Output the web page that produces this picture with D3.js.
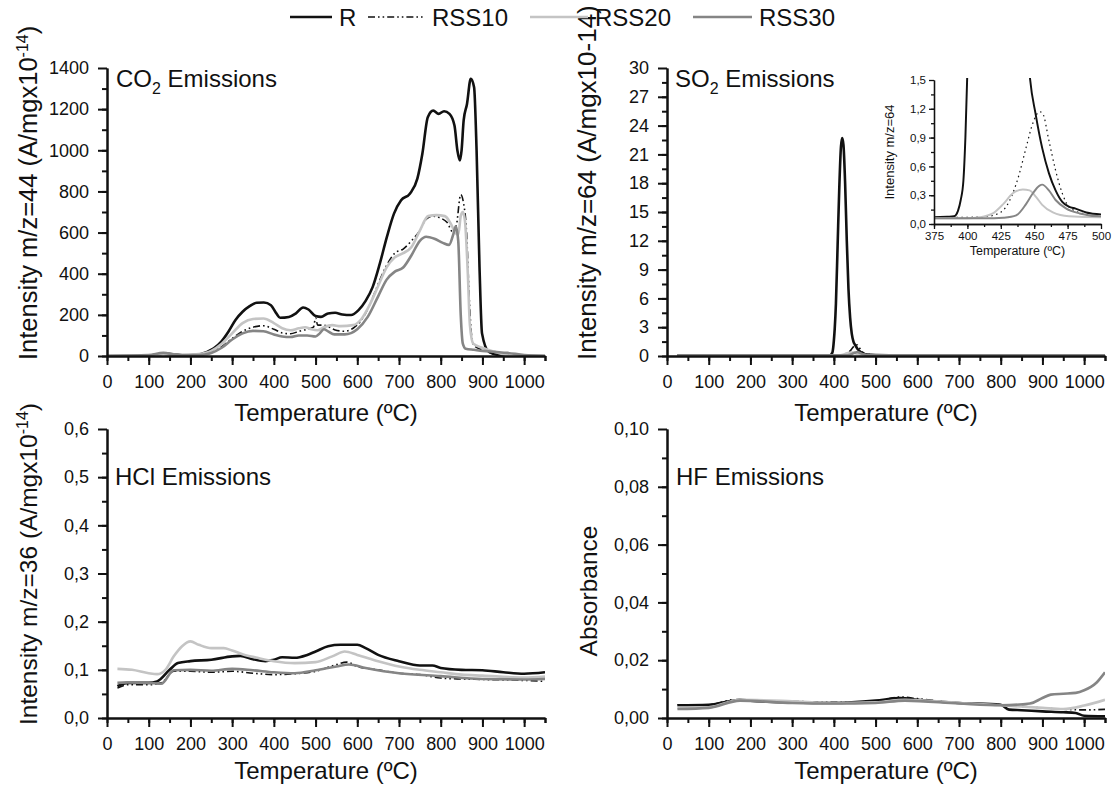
<!DOCTYPE html>
<html>
<head>
<meta charset="utf-8">
<script src="https://cdn.jsdelivr.net/npm/d3@7"></script>
<style>
	body { margin: 0; background: #fff; }
	svg text { font-family: 'Liberation Sans', Arial, sans-serif; fill: #111; }
</style>
</head>
<body>
<svg id="chart" width="1116" height="789"></svg>
<script>
// Series
var seriesNames = ['R', 'RSS10', 'RSS20', 'RSS30'];

// CO2 m/z=44, [temperature, intensity]
var co2R = [[0,0],[100,2],[140,12],[180,4],[210,5],[240,20],[256,37],[274,70],[291,118],[308,175],[325,215],[342,242],[359,259],[376,260],[393,247],[406,207],[415,186],[436,190],[453,207],[470,236],[483,226],[500,194],[513,190],[530,207],[547,210],[564,202],[585,199],[603,223],[620,268],[637,336],[654,449],[671,579],[688,692],[705,757],[726,789],[744,862],[756,983],[769,1161],[782,1193],[795,1177],[808,1190],[821,1177],[833,1120],[840,999],[846,950],[850,999],[855,1145],[863,1225],[872,1347],[880,1306],[886,999],[893,433],[899,110],[915,21],[940,5],[1050,0]];
var co2RSS10 = [[0,0],[100,2],[140,8],[180,3],[220,8],[250,20],[275,45],[300,85],[325,120],[350,140],[375,147],[400,130],[420,112],[440,108],[460,120],[480,130],[495,140],[500,185],[505,150],[520,150],[545,128],[570,120],[590,135],[610,175],[630,250],[650,350],[670,440],[690,500],[710,520],[730,560],[750,610],[765,665],[780,680],[800,670],[815,650],[830,600],[838,640],[848,785],[855,740],[862,600],[868,300],[874,100],[880,50],[900,30],[930,10],[960,2],[1050,0]];
var co2RSS20 = [[0,0],[100,3],[140,10],[180,5],[220,10],[250,25],[275,60],[300,110],[325,160],[350,180],[375,182],[400,160],[420,135],[440,125],[460,135],[475,140],[490,130],[505,125],[520,140],[540,150],[560,145],[590,150],[610,180],[630,250],[650,340],[670,430],[690,480],[710,500],[730,530],[750,610],[770,680],[790,685],[810,680],[825,640],[835,600],[842,590],[848,680],[853,700],[858,660],[865,400],[870,150],[878,60],[900,40],[930,20],[960,5],[1050,0]];
var co2RSS30 = [[0,0],[100,5],[135,15],[170,5],[220,5],[250,15],[275,40],[300,80],[325,110],[350,122],[375,120],[400,105],[420,95],[440,92],[460,100],[480,100],[500,95],[510,110],[520,130],[530,120],[545,105],[570,105],[600,130],[625,190],[650,290],[670,370],[690,410],[710,430],[730,490],[750,560],[765,580],[785,570],[805,550],[820,540],[830,590],[836,630],[842,560],[848,200],[853,60],[860,35],[880,30],[900,25],[930,20],[960,15],[1000,5],[1050,0]];

// SO2 m/z=64
var so2R = [[25,0.07],[150,0.07],[300,0.07],[375,0.07],[385,0.075],[390,0.08],[393,0.14],[395,0.25],[397,0.45],[398.5,0.9],[400,1.6],[402,2.8],[405,5.5],[409,11.5],[413,17.5],[417,21.8],[420,22.7],[423,22],[427,18],[431,12],[435,7],[439,4],[443,2.3],[447,1.5],[451,1.15],[456,0.79],[461,0.53],[466,0.35],[471,0.23],[476,0.18],[481,0.16],[489,0.12],[500,0.1],[550,0.08],[700,0.07],[1050,0.07]];
var so2RSS10 = [[25,0.07],[300,0.07],[400,0.07],[415,0.08],[421.6,0.1],[429,0.18],[434,0.32],[439,0.53],[444,0.8],[449,1.05],[454,1.17],[456.4,1.15],[461,0.87],[466,0.56],[471,0.32],[476,0.18],[486,0.11],[500,0.08],[550,0.07],[1050,0.07]];
var so2RSS20 = [[25,0.06],[300,0.06],[400,0.06],[409,0.07],[419,0.11],[427,0.21],[434,0.32],[441.5,0.36],[446.5,0.35],[451.5,0.28],[456,0.2],[464,0.12],[476,0.08],[500,0.07],[1050,0.06]];
var so2RSS30 = [[25,0.06],[300,0.06],[420,0.06],[427,0.065],[436.5,0.09],[444,0.21],[449,0.32],[454,0.4],[456,0.41],[461,0.35],[466,0.25],[474,0.16],[484,0.11],[500,0.08],[550,0.07],[1050,0.06]];

// HCl m/z=36
var hclR = [[25,0.066],[50,0.073],[100,0.073],[120,0.076],[150,0.1],[170,0.114],[200,0.118],[250,0.121],[300,0.128],[320,0.129],[350,0.122],[380,0.118],[400,0.121],[420,0.126],[450,0.125],[480,0.131],[500,0.138],[530,0.149],[560,0.152],[600,0.152],[620,0.145],[650,0.131],[700,0.118],[750,0.109],[780,0.109],[800,0.104],[850,0.1],[900,0.099],[950,0.095],[1000,0.092],[1050,0.095]];
var hclRSS10 = [[25,0.062],[50,0.069],[100,0.069],[130,0.073],[160,0.097],[200,0.097],[250,0.095],[300,0.097],[350,0.093],[400,0.09],[450,0.092],[500,0.097],[550,0.111],[575,0.116],[600,0.107],[650,0.1],[700,0.093],[750,0.09],[800,0.083],[850,0.081],[900,0.08],[1000,0.078],[1050,0.076]];
var hclRSS20 = [[25,0.102],[60,0.1],[100,0.093],[120,0.091],[140,0.1],[160,0.128],[180,0.149],[200,0.159],[220,0.152],[250,0.145],[280,0.145],[300,0.14],[330,0.131],[360,0.125],[400,0.118],[450,0.114],[500,0.116],[540,0.128],[570,0.138],[600,0.131],[650,0.118],[700,0.107],[750,0.1],[800,0.095],[850,0.09],[900,0.088],[1000,0.084],[1050,0.086]];
var hclRSS30 = [[25,0.073],[50,0.074],[100,0.073],[130,0.071],[160,0.099],[200,0.1],[250,0.098],[300,0.102],[350,0.099],[400,0.095],[450,0.093],[500,0.099],[550,0.107],[580,0.111],[620,0.104],[700,0.093],[800,0.087],[900,0.081],[1000,0.08],[1050,0.081]];

// HF absorbance
var hfR = [[25,0.0044],[100,0.0046],[150,0.0058],[175,0.0063],[200,0.006],[300,0.0054],[400,0.0052],[500,0.006],[560,0.0069],[600,0.0063],[700,0.0052],[800,0.0046],[820,0.0029],[850,0.0027],[900,0.0023],[950,0.002],[980,0.0017],[1000,0.0008],[1050,0.0006]];
var hfRSS10 = [[25,0.0046],[100,0.0046],[160,0.0063],[200,0.0061],[300,0.0058],[400,0.0054],[500,0.0058],[560,0.0073],[600,0.0067],[700,0.0052],[800,0.0046],[900,0.0035],[1000,0.0028],[1050,0.003]];
var hfRSS20 = [[25,0.0035],[100,0.0037],[175,0.0063],[300,0.0058],[400,0.0052],[500,0.0054],[570,0.0063],[700,0.0052],[800,0.0044],[900,0.0035],[950,0.0031],[1000,0.0043],[1050,0.0063]];
var hfRSS30 = [[25,0.0031],[100,0.0035],[175,0.006],[300,0.0052],[400,0.005],[500,0.0052],[570,0.006],[700,0.005],[800,0.0044],[870,0.005],[900,0.0069],[920,0.0081],[950,0.0084],[980,0.0087],[1000,0.0096],[1030,0.0123],[1050,0.0158]];

// Tick values
var tempTicks = [0, 100, 200, 300, 400, 500, 600, 700, 800, 900, 1000];
var co2Ticks = [0, 200, 400, 600, 800, 1000, 1200, 1400];
var so2Ticks = [0, 3, 6, 9, 12, 15, 18, 21, 24, 27, 30];
var hclTicks = [0, 0.1, 0.2, 0.3, 0.4, 0.5, 0.6];
var hfTicks = [0, 0.02, 0.04, 0.06, 0.08, 0.1];
var insetXTicks = [375, 400, 425, 450, 475, 500];
var insetYTicks = [0, 0.3, 0.6, 0.9, 1.2, 1.5];

// line styles
var colors = ['#111111', '#111111', '#c4c4c4', '#858585'];
var widths = [2.6, 1.6, 2.6, 2.6];
var dashes = [null, '7,3,1.6,3,1.6,3', null, null];

var comma = d3.formatLocale({ decimal: ',', thousands: '.', grouping: [3], currency: ['', ''] });

var svg = d3.select('#chart');
var clipId = 0;

// minor ticks halfway between the majors
function minors(ticks, extra) {
	var out = [];
	var step = ticks[1] - ticks[0];
	ticks.forEach(function(t) {
		out.push(t);
		out.push(t + step / 2);
	});
	if (extra) out = out.concat(extra);
	return out;
}

function styleAxis(g, w) {
	g.select('.domain').attr('stroke', '#111').attr('stroke-width', w);
	g.selectAll('.tick line').attr('stroke', '#111').attr('stroke-width', w);
}

function drawPanel(p) {
	var x = d3.scaleLinear().domain(p.xDomain).range(p.xRange);
	var y = d3.scaleLinear().domain(p.yDomain).range(p.yRange);
	var g = svg.append('g');

	//clip for the curves
	clipId++;
	g.append('clipPath')
		.attr('id', 'clip' + clipId)
		.append('rect')
		.attr('x', p.xRange[0])
		.attr('y', p.yRange[1] - 2)
		.attr('width', p.xRange[1] - p.xRange[0])
		.attr('height', p.yRange[0] - p.yRange[1] + 2);

	//curves
	var line = d3.line()
		.x(function(d) { return x(d[0]); })
		.y(function(d) { return y(d[1]); })
		.curve(d3.curveMonotoneX);
	p.data.forEach(function(s, i) {
		g.append('path')
			.datum(s)
			.attr('clip-path', 'url(#clip' + clipId + ')')
			.attr('fill', 'none')
			.attr('stroke', colors[i])
			.attr('stroke-width', p.lineScale ? widths[i] * p.lineScale : widths[i])
			.attr('stroke-dasharray', i == 1 && p.dash1 ? p.dash1 : dashes[i])
			.attr('stroke-linejoin', 'round')
			.attr('d', line);
	});

	//X axis, minor then major
	var xm = g.append('g').attr('transform', 'translate(0,' + p.yRange[0] + ')')
		.call(d3.axisBottom(x).tickValues(p.xMinor).tickSize(p.minorLen).tickSizeOuter(0).tickFormat(''));
	styleAxis(xm, p.axisW);
	var xa = g.append('g').attr('transform', 'translate(0,' + p.yRange[0] + ')')
		.call(d3.axisBottom(x).tickValues(p.xTicks).tickSize(p.majorLen).tickSizeOuter(0).tickPadding(p.xPad).tickFormat(d3.format('d')));
	styleAxis(xa, p.axisW);
	xa.selectAll('text').attr('font-size', p.tickFont).attr('font-family', null);

	//Y axis, minor then major
	var ym = g.append('g').attr('transform', 'translate(' + p.xRange[0] + ',0)')
		.call(d3.axisLeft(y).tickValues(p.yMinor).tickSize(p.minorLen).tickSizeOuter(0).tickFormat(''));
	styleAxis(ym, p.axisW);
	var ya = g.append('g').attr('transform', 'translate(' + p.xRange[0] + ',0)')
		.call(d3.axisLeft(y).tickValues(p.yTicks).tickSize(p.majorLen).tickSizeOuter(0).tickPadding(p.yPad).tickFormat(p.yFormat));
	styleAxis(ya, p.axisW);
	ya.selectAll('text').attr('font-size', p.tickFont).attr('font-family', null);

	//X axis label
	g.append('text')
		.attr('text-anchor', 'middle')
		.attr('x', (x.range()[0] + x.range()[1]) / 2)
		.attr('y', p.xTitleY)
		.attr('font-size', p.titleFont)
		.text('Temperature (ºC)');
	return g;
}

// text with sub / superscript pieces
function richText(parent, parts, size) {
	var t = parent.append('text').attr('font-size', size);
	parts.forEach(function(pt) {
		var ts = t.append('tspan').text(pt.t);
		if (pt.dy) ts.attr('dy', pt.dy);
		if (pt.s) ts.attr('font-size', pt.s);
	});
	return t;
}

var big = {
	xDomain: [0, 1050], minorLen: 5, majorLen: 9, axisW: 2, tickFont: 18, titleFont: 24, xPad: 10, yPad: 9,
	xTicks: tempTicks, xMinor: minors(tempTicks, [1050])
};

// CO2
drawPanel(Object.assign({}, big, {
	xRange: [107, 545], yRange: [356, 68], yDomain: [0, 1400], yTicks: co2Ticks, yMinor: minors(co2Ticks.slice(0, -1)),
	yFormat: d3.format('d'), xTitleY: 421, data: [co2R, co2RSS10, co2RSS20, co2RSS30]
}));
// SO2
drawPanel(Object.assign({}, big, {
	xRange: [667, 1105], yRange: [356, 68], yDomain: [0, 30], yTicks: so2Ticks, yMinor: minors(so2Ticks.slice(0, -1)),
	yFormat: d3.format('d'), xTitleY: 421, data: [so2R, so2RSS10, so2RSS20, so2RSS30]
}));
// HCl
drawPanel(Object.assign({}, big, {
	xRange: [107, 545], yRange: [718, 429], yDomain: [0, 0.6], yTicks: hclTicks, yMinor: minors(hclTicks.slice(0, -1)),
	yFormat: comma.format('.1f'), xTitleY: 779, data: [hclR, hclRSS10, hclRSS20, hclRSS30]
}));
// HF
drawPanel(Object.assign({}, big, {
	xRange: [667, 1105], yRange: [718, 429], yDomain: [0, 0.1], yTicks: hfTicks, yMinor: minors(hfTicks.slice(0, -1)),
	yFormat: comma.format('.2f'), xTitleY: 779, data: [hfR, hfRSS10, hfRSS20, hfRSS30]
}));
// SO2 inset, zoom on 375-500 ºC
var inset = drawPanel({
	xDomain: [375, 500], xRange: [934, 1101], yDomain: [0, 1.5], yRange: [224, 80],
	xTicks: insetXTicks, xMinor: minors(insetXTicks.slice(0, -1)), yTicks: insetYTicks, yMinor: minors(insetYTicks.slice(0, -1)),
	minorLen: 3, majorLen: 5, axisW: 1.3, tickFont: 11.5, titleFont: 12.5, xPad: 3, yPad: 3,
	yFormat: comma.format('.1f'), xTitleY: 255, lineScale: 0.75, dash1: '1.5,3.5',
	data: [so2R, so2RSS10, so2RSS20, so2RSS30]
});
inset.append('text')
	.attr('transform', 'translate(894,152) rotate(-90)')
	.attr('text-anchor', 'middle')
	.attr('font-size', 13)
	.text('Intensity m/z=64');

// Panel titles
richText(svg, [{ t: 'CO' }, { t: '2', dy: 7, s: 16 }, { t: '\u00a0Emissions', dy: -7 }], 24).attr('x', 116).attr('y', 87);
richText(svg, [{ t: 'SO' }, { t: '2', dy: 7, s: 16 }, { t: '\u00a0Emissions', dy: -7 }], 24).attr('x', 675).attr('y', 87);
richText(svg, [{ t: 'HCl Emissions' }], 24).attr('x', 115).attr('y', 485);
richText(svg, [{ t: 'HF Emissions' }], 24).attr('x', 676).attr('y', 485);

// Y axis titles
richText(svg, [{ t: 'Intensity m/z=44 (A/mgx10' }, { t: '-14', dy: -9, s: 16 }, { t: ')', dy: 9 }], 25.5)
	.attr('transform', 'translate(37,360) rotate(-90)');
richText(svg, [{ t: 'Intensity m/z=64 (A/mgx10-14)' }], 26)
	.attr('transform', 'translate(596,360) rotate(-90)');
richText(svg, [{ t: 'Intensity m/z=36 (A/mgx10' }, { t: '-14', dy: -9, s: 16 }, { t: ')', dy: 9 }], 24.5)
	.attr('transform', 'translate(37,725) rotate(-90)');
richText(svg, [{ t: 'Absorbance' }], 24.5)
	.attr('transform', 'translate(597,591) rotate(-90)')
	.attr('text-anchor', 'middle');

// Legend
var legendX = [[290, 332], [368, 425], [530, 588], [693, 752]];
var legend = svg.append('g');
seriesNames.forEach(function(name, i) {
	legend.append('line')
		.attr('x1', legendX[i][0]).attr('x2', legendX[i][1])
		.attr('y1', 17).attr('y2', 17)
		.attr('stroke', colors[i])
		.attr('stroke-width', widths[i])
		.attr('stroke-dasharray', dashes[i]);
	legend.append('text')
		.attr('x', legendX[i][1] + 7)
		.attr('y', 26)
		.attr('font-size', 24)
		.text(name);
});
</script>
</body>
</html>
